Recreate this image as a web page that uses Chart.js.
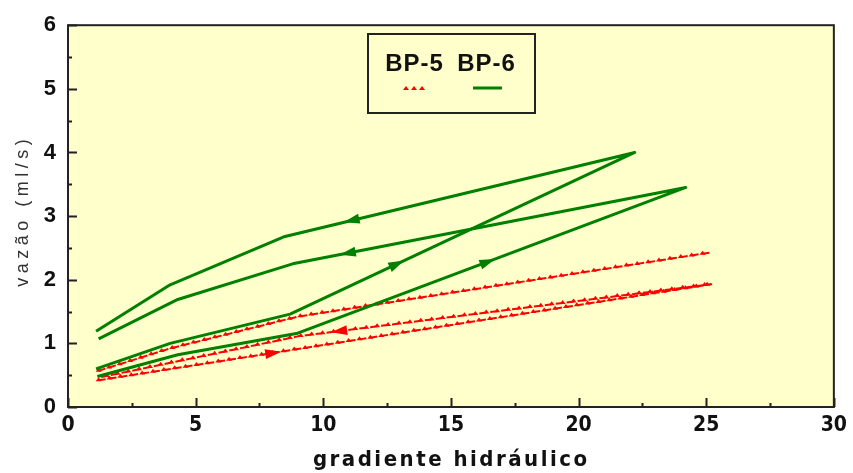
<!DOCTYPE html>
<html>
<head>
<meta charset="utf-8">
<script src="https://cdn.jsdelivr.net/npm/chart.js@4"></script>
<style>
  html, body { margin: 0; background: #fff; }
</style>
</head>
<body>
<canvas id="chart" width="853" height="473"></canvas>
<script>
// values
const seriesNames = ["BP-5", "BP-6"];

// BP-6, first loop (rise then fall)
const bp6_a_x = [1.1, 4.0, 8.7, 22.2, 8.5, 4.0, 1.1];
const bp6_a_y = [0.60, 1.00, 1.46, 4.00, 2.68, 1.92, 1.19];
// BP-6, second loop
const bp6_b_x = [1.15, 4.3, 9.0, 24.2, 8.8, 4.3, 1.2];
const bp6_b_y = [0.48, 0.82, 1.16, 3.45, 2.25, 1.69, 1.07];
// BP-5, upper run
const bp5_a_x = [1.2, 4.0, 9.0, 25.2];
const bp5_a_y = [0.57, 0.92, 1.42, 2.43];
// BP-5, lower loop
const bp5_b_x = [1.2, 25.2, 9.0, 4.8, 1.3];
const bp5_b_y = [0.42, 1.93, 1.11, 0.76, 0.47];

const xTicks = [0, 5, 10, 15, 20, 25, 30];
const yTicks = [0, 1, 2, 3, 4, 5, 6];

// arrow heads: [dataset, segment, fraction along segment]
const arrows = [[0, 2, 0.31], [0, 3, 0.81], [1, 2, 0.49], [1, 3, 0.86], [3, 0, 0.285], [3, 1, 0.9]];

const GREEN = "#008000";
const RED = "#ff0000";
const BG = "#ffffcc";
const SANS = '"Liberation Sans", Arial, sans-serif';
const NARROW = '"Liberation Sans Narrow", "Arial Narrow", "DejaVu Sans Condensed", sans-serif';

function pts(xs, ys) {
  return xs.map((x, i) => ({x: x, y: ys[i]}));
}

function drawSpaced(ctx, text, x, y, spacing) {
  const chars = [...text];
  const w = chars.map(c => ctx.measureText(c).width);
  const total = w.reduce((a, b) => a + b, 0) + spacing * (chars.length - 1);
  let cx = x - total / 2;
  ctx.textAlign = "left";
  chars.forEach((c, i) => {
    ctx.fillText(c, cx, y);
    cx += w[i] + spacing;
  });
}

function arrowHead(ctx, x, y, ang, len, wid, color) {
  const tx = x + Math.cos(ang) * len / 2, ty = y + Math.sin(ang) * len / 2;
  const bx = x - Math.cos(ang) * len / 2, by = y - Math.sin(ang) * len / 2;
  const nx = -Math.sin(ang) * wid / 2, ny = Math.cos(ang) * wid / 2;
  ctx.beginPath();
  ctx.moveTo(tx, ty);
  ctx.lineTo(bx + nx, by + ny);
  ctx.lineTo(bx - nx, by - ny);
  ctx.closePath();
  ctx.fillStyle = color;
  ctx.fill();
}

const plotBg = {
  id: "plotBg",
  beforeDraw(chart) {
    const {ctx, chartArea: a} = chart;
    ctx.save();
    ctx.fillStyle = BG;
    ctx.fillRect(a.left, a.top, a.right - a.left, a.bottom - a.top);
    ctx.restore();
  }
};

const marks = {
  id: "marks",
  afterDatasetDraw(chart, args) {
    const ctx = chart.ctx;
    const idx = args.index;
    const meta = chart.getDatasetMeta(idx);
    const p = meta.data.map(e => ({x: e.x, y: e.y}));
    const color = chart.data.datasets[idx].borderColor;
    ctx.save();
    if (color === RED) {
      // little triangles along the dashed line
      ctx.fillStyle = RED;
      let carry = 0;
      for (let i = 0; i < p.length - 1; i++) {
        const dx = p[i + 1].x - p[i].x, dy = p[i + 1].y - p[i].y;
        const L = Math.hypot(dx, dy);
        let d = carry;
        while (d < L) {
          const x = p[i].x + dx * d / L, y = p[i].y + dy * d / L;
          ctx.beginPath();
          ctx.moveTo(x - 3, y + 1);
          ctx.lineTo(x + 3, y + 1);
          ctx.lineTo(x, y - 3);
          ctx.closePath();
          ctx.fill();
          d += 11;
        }
        carry = d - L;
      }
    }
    arrows.filter(a => a[0] === idx).forEach(a => {
      const s = a[1], f = a[2];
      const x = p[s].x + (p[s + 1].x - p[s].x) * f;
      const y = p[s].y + (p[s + 1].y - p[s].y) * f;
      const ang = Math.atan2(p[s + 1].y - p[s].y, p[s + 1].x - p[s].x);
      arrowHead(ctx, x, y, ang, 16, 10, color);
    });
    ctx.restore();
  },
  afterDraw(chart) {
    const {ctx, chartArea: a, scales} = chart;
    ctx.save();
    ctx.strokeStyle = "#222";
    ctx.lineWidth = 2;
    // tick marks pointing into the plot
    ctx.beginPath();
    for (let v = 0; v <= 6; v += 0.5) {
      const y = Math.round(scales.y.getPixelForValue(v)) + 0.5;
      const len = Number.isInteger(v) ? 9 : 4;
      ctx.moveTo(a.left, y);
      ctx.lineTo(a.left + len, y);
    }
    for (let v = 0; v <= 30; v += 2.5) {
      const x = Math.round(scales.x.getPixelForValue(v)) + 0.5;
      const len = v % 5 === 0 ? 9 : 4;
      ctx.moveTo(x, a.bottom);
      ctx.lineTo(x, a.bottom - len);
    }
    ctx.stroke();
    ctx.strokeRect(a.left, a.top, a.right - a.left, a.bottom - a.top);

    // legend box
    ctx.lineWidth = 2;
    ctx.strokeStyle = "#222";
    ctx.strokeRect(368, 34, 167, 79);
    ctx.fillStyle = "#111";
    ctx.font = "bold 24px " + SANS;
    ctx.textBaseline = "middle";
    drawSpaced(ctx, seriesNames[0], 414, 64, 1);
    drawSpaced(ctx, seriesNames[1], 486, 64, 1);
    ctx.fillStyle = RED;
    [406, 414, 422].forEach(x => {
      ctx.beginPath();
      ctx.moveTo(x - 3, 90);
      ctx.lineTo(x + 3, 90);
      ctx.lineTo(x, 86);
      ctx.closePath();
      ctx.fill();
    });
    ctx.strokeStyle = GREEN;
    ctx.lineWidth = 3;
    ctx.beginPath();
    ctx.moveTo(473, 88);
    ctx.lineTo(502, 88);
    ctx.stroke();

    // axis titles
    ctx.fillStyle = "#333";
    ctx.font = "18px " + SANS;
    ctx.textBaseline = "middle";
    ctx.translate(23, 213);
    ctx.rotate(-Math.PI / 2);
    drawSpaced(ctx, "vazão (ml/s)", 0, 0, 4.5);
    ctx.setTransform(1, 0, 0, 1, 0, 0);
    ctx.fillStyle = "#111";
    ctx.font = "bold 22px " + NARROW;
    drawSpaced(ctx, "gradiente hidráulico", 450, 460, 2.5);
    ctx.restore();
  }
};

new Chart("chart", {
  type: "line",
  data: {
    datasets: [
      {label: seriesNames[1], data: pts(bp6_a_x, bp6_a_y), borderColor: GREEN, borderWidth: 3},
      {label: seriesNames[1], data: pts(bp6_b_x, bp6_b_y), borderColor: GREEN, borderWidth: 3},
      {label: seriesNames[0], data: pts(bp5_a_x, bp5_a_y), borderColor: RED, borderWidth: 2, borderDash: [7, 4]},
      {label: seriesNames[0], data: pts(bp5_b_x, bp5_b_y), borderColor: RED, borderWidth: 2, borderDash: [7, 4]}
    ]
  },
  options: {
    responsive: false,
    animation: false,
    layout: {padding: {top: 20, right: 16, left: 0, bottom: 0}},
    elements: {point: {radius: 0, hoverRadius: 0}, line: {tension: 0, fill: false, borderJoinStyle: "round"}},
    plugins: {legend: {display: false}, tooltip: {enabled: false}},
    scales: {
      x: {
        type: "linear", min: 0, max: 30,
        afterBuildTicks: s => { s.ticks = xTicks.map(v => ({value: v})); },
        afterFit: s => { s.height = 66; },
        grid: {display: true, drawOnChartArea: false, drawTicks: false},
        border: {display: false},
        ticks: {padding: 6, color: "#111", font: {family: NARROW, size: 21, weight: "bold"}}
      },
      y: {
        type: "linear", min: 0, max: 6,
        afterBuildTicks: s => { s.ticks = yTicks.map(v => ({value: v})); },
        afterFit: s => { s.width = 68; },
        grid: {display: true, drawOnChartArea: false, drawTicks: false},
        border: {display: false},
        ticks: {padding: 12, color: "#111", font: {family: SANS, size: 22, weight: "bold"}}
      }
    }
  },
  plugins: [plotBg, marks]
});
</script>
</body>
</html>
